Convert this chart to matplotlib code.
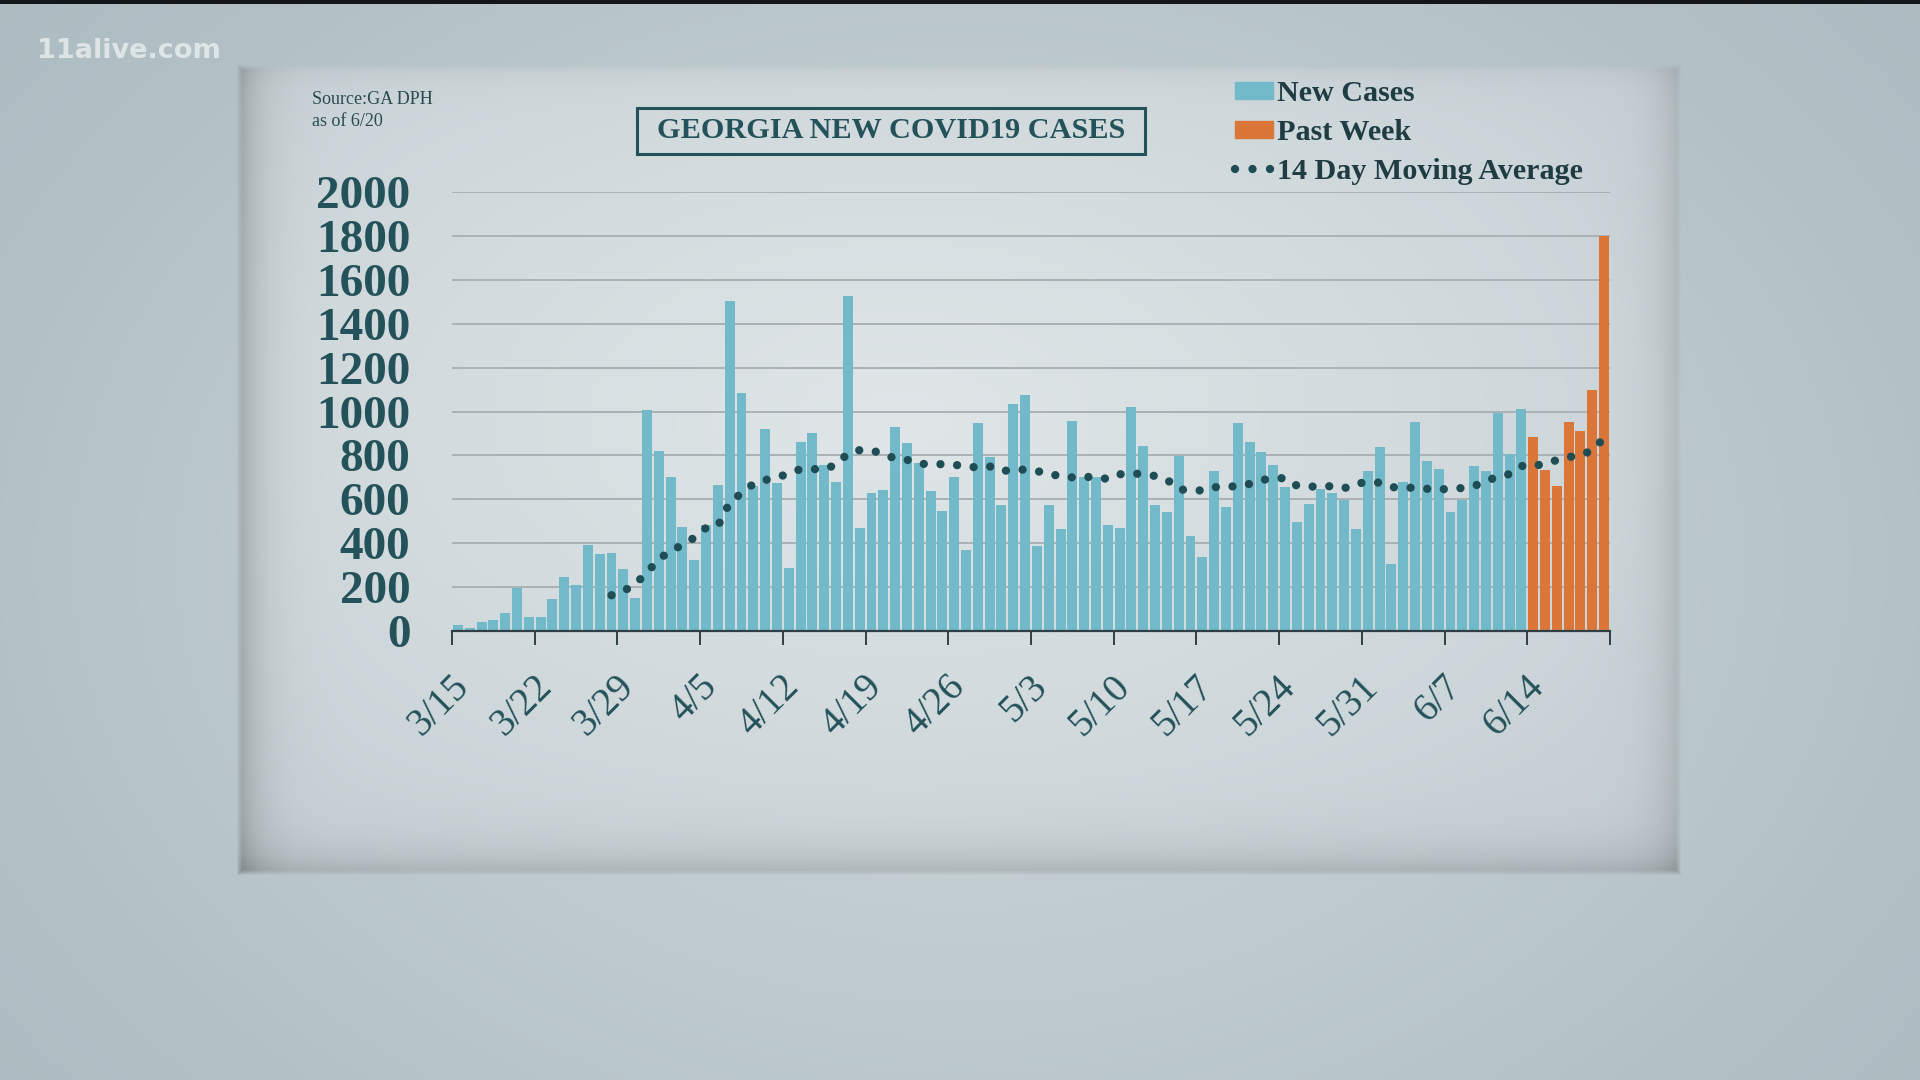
import matplotlib
matplotlib.use("Agg")
import matplotlib.pyplot as plt
import matplotlib.transforms as mtransforms
import numpy as np
from matplotlib.lines import Line2D
from matplotlib.patches import Patch, Rectangle

# daily new cases, 3/15 .. 6/20 (last 7 days = past week)
new_cases = [
    26, 14, 43, 49, 82, 195, 62, 62, 146, 246, 211, 392, 353, 357,
    283, 152, 1007, 821, 703, 476, 324, 484, 663, 1503, 1083, 662, 919, 675,
    289, 861, 903, 757, 677, 1524, 468, 627, 642, 931, 856, 764, 636, 545,
    703, 368, 946, 794, 575, 1034, 1075, 388, 575, 464, 958, 703, 703, 484,
    468, 1019, 841, 573, 543, 797, 435, 338, 730, 566, 946, 861, 814, 757,
    654, 497, 578, 646, 627, 596, 464, 730, 837, 304, 681, 951, 773, 739,
    540, 596, 751, 730, 992, 806, 1011, 882, 733, 662, 952, 910, 1098, 1798,
]
past_week_days = 7

# 14 day moving average, starting on day 13 (3/28)
moving_avg_start = 13
moving_avg = [
    163, 182, 212, 268, 325, 368, 390, 425, 470, 478, 585, 628, 670, 688,
    697, 720, 737, 738, 736, 758, 808, 824, 822, 808, 785, 780, 762, 760,
    760, 758, 748, 746, 750, 728, 735, 735, 728, 719, 703, 700, 701, 703,
    692, 714, 717, 716, 706, 690, 645, 642, 640, 655, 658, 659, 670, 688,
    694, 697, 662, 658, 658, 660, 650, 672, 677, 676, 655, 654, 652, 648,
    644, 649, 651, 660, 684, 702, 715, 752, 749, 765, 778, 792, 802, 822,
    880,
]

tick_labels = ["3/15", "3/22", "3/29", "4/5", "4/12", "4/19", "4/26",
               "5/3", "5/10", "5/17", "5/24", "5/31", "6/7", "6/14"]
y_ticks = [0, 200, 400, 600, 800, 1000, 1200, 1400, 1600, 1800, 2000]

TEAL = "#72b9ca"
ORANGE = "#da7638"
DOT = "#1e4d55"
TEXT = "#24525a"
SERIF = "Liberation Serif"

fig = plt.figure(figsize=(19.2, 10.8), dpi=100)

# --- background: grey-blue wall with a recessed lighter panel ---
H, W = 1080, 1920
yy, xx = np.mgrid[0:H, 0:W].astype(float)
d = np.hypot((xx - 960) / 960, (yy - 560) / 700)
outer = np.array([208, 216, 219]) - d[..., None] * np.array([28, 22, 20])
x0, x1, y0, y1 = 239, 1678, 67, 872
dl, dr, dt, db = xx - x0, x1 - xx, yy - y0, y1 - yy
dp = np.hypot((xx - 900) / 900, (yy - 420) / 520)
panel = np.array([224, 230, 232]) - dp[..., None] * np.array([24, 20, 18])
shade = (0.22 * np.exp(-np.clip(dl, 0, None) / 22)
         + 0.16 * np.exp(-np.clip(db, 0, None) / 22)
         + 0.14 * np.exp(-np.clip(dr, 0, None) / 22)
         + 0.05 * np.exp(-np.clip(dt, 0, None) / 14))
panel = panel * (1 - shade[..., None])
m = np.clip(np.minimum.reduce([dl, dr, dt, db]) / 6 + 0.5, 0, 1)[..., None]
img = outer * (1 - m) + panel * m
img[0:4] = [22, 22, 26]
bg = fig.add_axes([0, 0, 1, 1], zorder=-10)
bg.imshow(img.astype(np.uint8), aspect="auto", interpolation="bilinear")
bg.axis("off")

fig.text(37 / W, 1 - 51 / H, "11alive.com", fontsize=19.5, fontweight="bold",
         family="DejaVu Sans", color="#eef2f3", alpha=0.75, va="center")
fig.text(312 / W, 1 - 100 / H, "Source:GA DPH", fontsize=13, family=SERIF,
         color="#2a4a50", va="center")
fig.text(312 / W, 1 - 121 / H, "as of 6/20", fontsize=13, family=SERIF,
         color="#2a4a50", va="center")

# title box
fig.patches.append(Rectangle((637 / W, 1 - 154 / H), 508 / W, 46 / H,
                             transform=fig.transFigure, fill=False,
                             edgecolor="#24525a", lw=2.2))
fig.text(891 / W, 1 - 131 / H, "GEORGIA NEW COVID19 CASES", fontsize=21.8,
         fontweight="bold", family=SERIF, color=TEXT, ha="center", va="center")

# --- chart ---
ax = fig.add_axes([452 / W, 1 - 631 / H, 1158 / W, 439 / H])
ax.patch.set_alpha(0)

n = len(new_cases)
days = np.arange(n)
colors = [TEAL] * (n - past_week_days) + [ORANGE] * past_week_days
ax.bar(days + 0.5, new_cases, width=0.84, color=colors, zorder=2)

ma_x = np.arange(moving_avg_start, moving_avg_start + len(moving_avg)) + 0.5
ax.plot(ma_x, moving_avg, color=DOT, lw=6, linestyle=(0, (0.001, 2.0)),
        dash_capstyle="round", zorder=3)

ax.set_xlim(0, n)
ax.set_ylim(0, 2000)
ax.set_yticks(y_ticks)
ax.set_yticklabels([str(v) for v in y_ticks], family=SERIF, fontweight="bold",
                   fontsize=34, color=TEXT)
ax.tick_params(axis="y", length=0, pad=30)
ax.yaxis.grid(True, color="#a9b1b4", lw=1.4, zorder=0)
ax.set_axisbelow(True)

xt = list(range(0, n + 1, 7))
ax.set_xticks(xt)
ax.set_xticklabels(tick_labels + [""] * (len(xt) - len(tick_labels)),
                   family=SERIF, fontsize=28, color=TEXT, rotation=45,
                   ha="right", va="top", rotation_mode="anchor")
ax.tick_params(axis="x", length=10, width=1.4, color="#2f3f44", pad=17)
offset = mtransforms.ScaledTranslation(-0.02, 0, fig.dpi_scale_trans)
for lbl in ax.get_xticklabels():
    lbl.set_transform(lbl.get_transform() + offset)

for s in ["left", "top", "right"]:
    ax.spines[s].set_visible(False)
ax.spines["bottom"].set_color("#2f3f44")
ax.spines["bottom"].set_linewidth(1.6)
ax.spines["bottom"].set_zorder(4)

handles = [
    Patch(color=TEAL, label="New Cases"),
    Patch(color=ORANGE, label="Past Week"),
    Line2D([0], [0], color=DOT, lw=6, linestyle=(0, (0.001, 2.1)),
           dash_capstyle="round", label="14 Day Moving Average"),
]
fig.legend(handles=handles, loc="upper left",
           bbox_to_anchor=(1235 / W, 1 - 80 / H), frameon=False,
           prop={"family": SERIF, "weight": "bold", "size": 21.7},
           labelcolor="#1f3c42", handlelength=1.25, handleheight=0.5,
           handletextpad=0.15, labelspacing=0.4, borderpad=0,
           borderaxespad=0)

fig.savefig("out.png", dpi=100)
